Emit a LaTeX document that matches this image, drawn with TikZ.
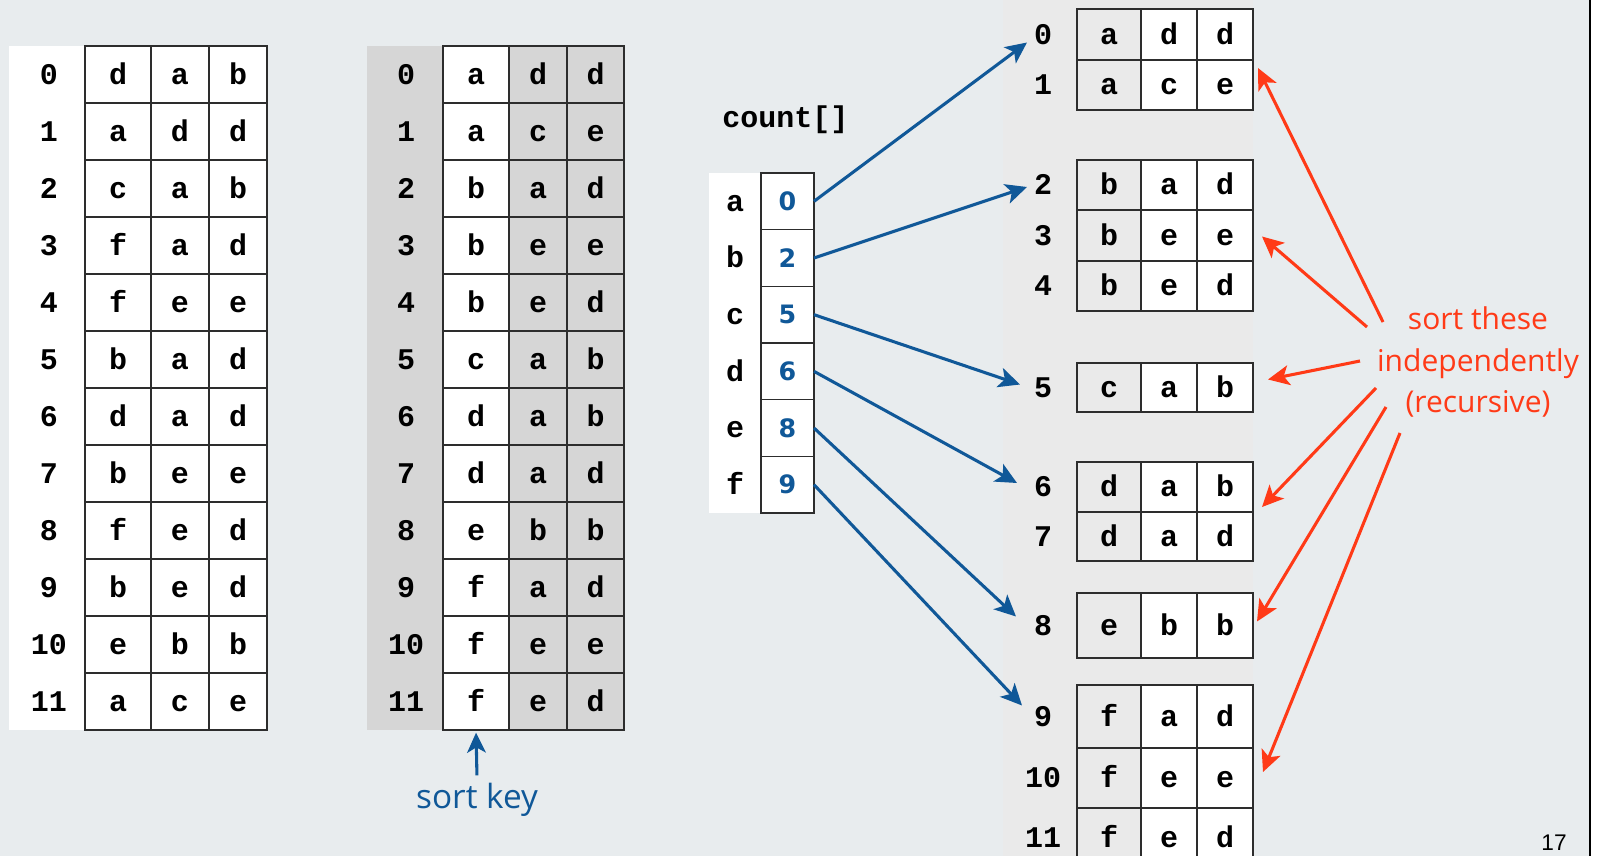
\documentclass[tikz,border=0pt]{standalone}
\usepackage{fontspec}
\setmonofont{Liberation Mono}
\newfontfamily\notefont{Open Sans}
\newfontfamily\numfont{DejaVu Sans}
\newfontfamily\pagefont{Liberation Sans}
\usetikzlibrary{arrows.meta,calc}

\definecolor{bg}{RGB}{232,236,238}
\definecolor{panel}{RGB}{234,234,234}
\definecolor{keygray}{RGB}{214,214,214}
\definecolor{firstcol}{RGB}{234,234,234}
\definecolor{gridline}{RGB}{45,45,45}
\definecolor{darkblue}{RGB}{16,88,152}
\definecolor{notered}{RGB}{255,58,23}

\tikzset{
  cell/.style={draw=gridline, line width=1.1pt, inner sep=0pt, outer sep=0pt,
    anchor=north west, text height=14.8pt, text depth=0pt,
    font=\ttfamily\bfseries\fontsize{22.5}{22.5}\selectfont},
  idx/.style={inner sep=0pt, text height=14.8pt, text depth=0pt,
    font=\ttfamily\bfseries\fontsize{22.5}{22.5}\selectfont},
  cnt/.style={cell, text=darkblue, font=\numfont\bfseries\fontsize{19}{19}\selectfont,
    text height=13.85pt},
  bluearrow/.style={draw=darkblue, line width=2.3pt,
    -{Stealth[length=16pt,width=15pt,inset=4pt]}},
  redarrow/.style={draw=notered, line width=2.3pt,
    -{Stealth[length=16pt,width=15pt,inset=4pt]}},
  note/.style={font=\notefont\fontsize{22.5}{31}\selectfont, align=center}
}

\begin{document}
\begin{tikzpicture}[x=0.75pt,y=-0.75pt]
\useasboundingbox (0,0) rectangle (1600,856);
\fill[bg] (0,0) rectangle (1600,856);
% shaded strip behind the sub-arrays
\fill[panel] (1003,0) rectangle (1253,856);
% slide edge
\fill[white] (1590,0) rectangle (1600,856);
\draw[black, line width=1.4pt] (1590,0) -- (1590,856);

% ---------------- input array ----------------
\fill[white] (9,46) rectangle (85,730);
\foreach \i/\a/\b/\c in {0/d/a/b,1/a/d/d,2/c/a/b,3/f/a/d,4/f/e/e,5/b/a/d,
                         6/d/a/d,7/b/e/e,8/f/e/d,9/b/e/d,10/e/b/b,11/a/c/e}{
  \pgfmathsetmacro\t{46+57*\i}
  \node[idx] (A\i) at (49,{\t+28.5}) {\i};
  \node[cell, fill=white, minimum width=66*0.75pt, minimum height=57*0.75pt] (A\i-1) at (85,\t) {\a};
  \node[cell, fill=white, minimum width=58*0.75pt, minimum height=57*0.75pt] (A\i-2) at (151,\t) {\b};
  \node[cell, fill=white, minimum width=58*0.75pt, minimum height=57*0.75pt] (A\i-3) at (209,\t) {\c};
}

% ---------------- after key-indexed counting on the first character ----------------
\fill[keygray] (367,46) rectangle (443,730);
\foreach \i/\a/\b/\c in {0/a/d/d,1/a/c/e,2/b/a/d,3/b/e/e,4/b/e/d,5/c/a/b,
                         6/d/a/b,7/d/a/d,8/e/b/b,9/f/a/d,10/f/e/e,11/f/e/d}{
  \pgfmathsetmacro\t{46+57*\i}
  \node[idx] (B\i) at (406,{\t+28.5}) {\i};
  \node[cell, fill=white, minimum width=66*0.75pt, minimum height=57*0.75pt] (B\i-1) at (443,\t) {\a};
  \node[cell, fill=keygray, minimum width=58*0.75pt, minimum height=57*0.75pt] (B\i-2) at (509,\t) {\b};
  \node[cell, fill=keygray, minimum width=57*0.75pt, minimum height=57*0.75pt] (B\i-3) at (567,\t) {\c};
}
\node[note, font=\notefont\fontsize{25}{25}\selectfont, text=darkblue, anchor=base] (sk) at (477,808) {sort key};
\draw[draw=darkblue, line width=2.3pt, -{Stealth[length=15pt,width=14pt,inset=4pt]},
      shorten >=2pt, shorten <=2pt] (sk.north) -- (B11-1.south);

% ---------------- count[] ----------------
\node[idx, anchor=west] (cntlabel) at (722,118) {count[]};
\fill[white] (709,173) rectangle (761,513);
\foreach \k/\v [count=\n from 0] in {a/0,b/2,c/5,d/6,e/8,f/9}{
  \pgfmathsetmacro\t{173+56.67*\n}
  \node[idx] (L\k) at (735,{\t+28.33}) {\k};
  \node[cnt, fill=white, minimum width=53*0.75pt, minimum height=56.67*0.75pt] (C\k) at (761,\t) {\v};
}

% ---------------- sub-arrays ----------------
\foreach \i/\t/\h/\a/\b/\c in {0/9/51/a/d/d,1/60/50/a/c/e,2/160/50/b/a/d,3/210/51/b/e/e,
    4/261/50/b/e/d,5/363/49/c/a/b,6/462/50/d/a/b,7/512/49/d/a/d,8/593/65/e/b/b,
    9/685/63/f/a/d,10/748/60/f/e/e,11/808/60/f/e/d}{
  \node[idx] (R\i) at (1043,{\t+\h/2}) {\i};
  \node[cell, fill=firstcol, minimum width=64*0.75pt, minimum height=\h*0.75pt] (R\i-1) at (1077,\t) {\a};
  \node[cell, fill=white, minimum width=56*0.75pt, minimum height=\h*0.75pt] (R\i-2) at (1141,\t) {\b};
  \node[cell, fill=white, minimum width=56*0.75pt, minimum height=\h*0.75pt] (R\i-3) at (1197,\t) {\c};
}

% count[] entries point at the start of each sub-array
\foreach \k/\r/\dx/\dy in {a/0/-16/8, b/2/-16/2, c/5/-23/-3, d/6/-26/-4, e/8/-27/-9, f/9/-21/-11}
  \draw[bluearrow] (C\k.east) -- ($(R\r)+(\dx,\dy)$);

% ---------------- recursive note ----------------
\node[note, text=notered] (rec) at (1478,362) {sort these\\independently\\(recursive)};
\draw[redarrow] ($(rec)+(-95,-40)$)  -- ($(R1-3.north east)+(5,8)$);
\draw[redarrow] ($(rec)+(-111,-35)$) -- ($(R3-3.east)+(9,1)$);
\draw[redarrow] ($(rec)+(-118,-1)$)  -- ($(R5-3.east)+(15,-8)$);
\draw[redarrow] ($(rec)+(-102,26)$)  -- ($(R7-3.north east)+(9,-5)$);
\draw[redarrow] ($(rec)+(-92,45)$)   -- ($(R8-3.east)+(4,-4)$);
\draw[redarrow] ($(rec)+(-78,71)$)   -- ($(R10-3.east)+(10,-6)$);

% slide number
\node[font=\pagefont\fontsize{17}{17}\selectfont] (pg) at (1554,843) {17};
\end{tikzpicture}
\end{document}
